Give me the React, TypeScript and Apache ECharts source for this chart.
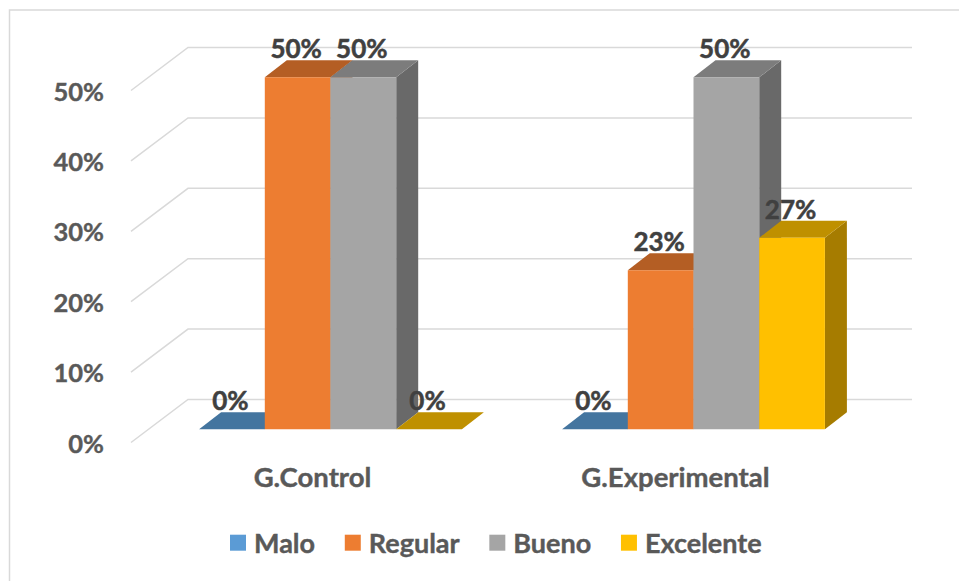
import React, { useEffect, useRef } from "react";
import * as echarts from "echarts";

const categories = ["G.Control", "G.Experimental"];
const seriesNames = ["Malo", "Regular", "Bueno", "Excelente"];
const malo = [0, 0];
const regular = [0.5, 0.226];
const bueno = [0.5, 0.5];
const excelente = [0, 0.272];
const ticks = [0, 0.1, 0.2, 0.3, 0.4, 0.5];

const legendColors = ["#5B9BD5", "#ED7D31", "#A5A5A5", "#FFC000"];
const topColors = ["#44759F", "#B45E24", "#7C7C7C", "#BF9000"];
const sideColors = ["#38617F", "#8F4B1D", "#696969", "#A67C00"];

const FONT = "Lato, Carlito, Calibri, sans-serif";
// Perspective of the reference's 3D chart, in pixels
const WALL_DX = 57;
const WALL_DY = 43;
const BAR_DX = 18;
const BAR_DY = 13.2;
const TOP_DX = 22;
const TOP_DY = 17;
const BAR_SHARE = 0.181;

function barSeries(name: string, values: number[], i: number) {
  return {
    type: "custom",
    name,
    itemStyle: { color: legendColors[i] },
    data: values.map((v, c) => [c, v]),
    encode: { x: 0, y: 1 },
    renderItem: (_p: any, api: any) => {
      const val = api.value(1);
      const cat = api.value(0);
      const top = api.coord([cat, val]);
      const base = api.coord([cat, 0]);
      const w = api.size([1, 0])[0] * BAR_SHARE;
      const x0 = top[0] + BAR_DX + (i - 2) * w;
      const x1 = x0 + w;
      const yT = top[1] - BAR_DY;
      const yB = base[1] - BAR_DY;
      const poly = (points: number[][], fill: string) => ({
        type: "polygon",
        shape: { points },
        style: { fill },
      });
      return {
        type: "group",
        children: [
          poly(
            [[x1, yT], [x1 + TOP_DX, yT - TOP_DY], [x1 + TOP_DX, yB - TOP_DY], [x1, yB]],
            sideColors[i],
          ),
          poly(
            [[x0, yT], [x0 + TOP_DX, yT - TOP_DY], [x1 + TOP_DX, yT - TOP_DY], [x1, yT]],
            topColors[i],
          ),
          { type: "rect", shape: { x: x0, y: yT, width: w, height: yB - yT }, style: { fill: legendColors[i] } },
          {
            type: "text",
            z2: 100,
            style: {
              x: (x0 + x1) / 2 - 1.5,
              y: yT - 29,
              text: Math.round(val * 100) + "%",
              align: "center",
              verticalAlign: "middle",
              fill: "#404040",
              font: `bold 26px ${FONT}`,
              stroke: "#404040",
              lineWidth: 0.5,
            },
          },
        ],
      };
    },
  };
}

export default function App() {
  const ref = useRef<HTMLDivElement>(null);
  useEffect(() => {
    document.body.style.margin = "0";
    const chart = echarts.init(ref.current!, undefined, { renderer: "svg" });
    chart.setOption({
      animation: false,
      backgroundColor: "#fff",
      graphic: [
        {
          type: "polyline",
          silent: true,
          shape: { points: [[959, 10], [9.5, 10], [9.5, 581]] },
          style: { stroke: "#D9D9D9", lineWidth: 1.5, fill: "none" },
        },
      ],
      grid: { left: 131, width: 726, top: 90.5, height: 352 },
      legend: {
        data: seriesNames,
        left: 225,
        top: 524,
        icon: "rect",
        itemWidth: 16,
        itemHeight: 16,
        itemGap: 29.5,
        textStyle: {
          color: "#595959",
          fontFamily: FONT,
          fontWeight: "bold",
          fontSize: 27,
          padding: [0, 0, 0, 3],
          textBorderColor: "#595959",
          textBorderWidth: 0.4,
        },
      },
      xAxis: {
        type: "category",
        data: categories,
        axisLine: { show: false },
        axisTick: { show: false },
        axisLabel: {
          color: "#595959",
          fontFamily: FONT,
          fontWeight: "bold",
          fontSize: 27.5,
          margin: 20,
          textBorderColor: "#595959",
          textBorderWidth: 0.4,
        },
      },
      yAxis: {
        type: "value",
        min: 0,
        max: 0.5,
        interval: 0.1,
        axisLine: { show: false },
        axisTick: { show: false },
        splitLine: { show: false },
        axisLabel: {
          color: "#595959",
          fontFamily: FONT,
          fontWeight: "bold",
          fontSize: 25.5,
          margin: 27,
          textBorderColor: "#595959",
          textBorderWidth: 0.4,
          formatter: (v: number) => Math.round(v * 100) + "%",
        },
      },
      series: [
        {
          type: "custom",
          name: "wall",
          silent: true,
          data: ticks.map((t) => [0, t]),
          encode: { y: 1 },
          renderItem: (params: any, api: any) => {
            const p = api.coord([0, api.value(1)]);
            const sys = params.coordSys;
            const bx = sys.x + WALL_DX;
            const by = p[1] - WALL_DY;
            return {
              type: "polyline",
              shape: { points: [[sys.x, p[1]], [bx, by], [sys.x + sys.width + 55, by]] },
              style: { stroke: "#D9D9D9", lineWidth: 1.5, fill: "none" },
            };
          },
        },
        barSeries(seriesNames[0], malo, 0),
        barSeries(seriesNames[1], regular, 1),
        barSeries(seriesNames[2], bueno, 2),
        barSeries(seriesNames[3], excelente, 3),
      ],
    });
    return () => chart.dispose();
  }, []);
  return <div ref={ref} style={{ width: 959, height: 581 }} />;
}
